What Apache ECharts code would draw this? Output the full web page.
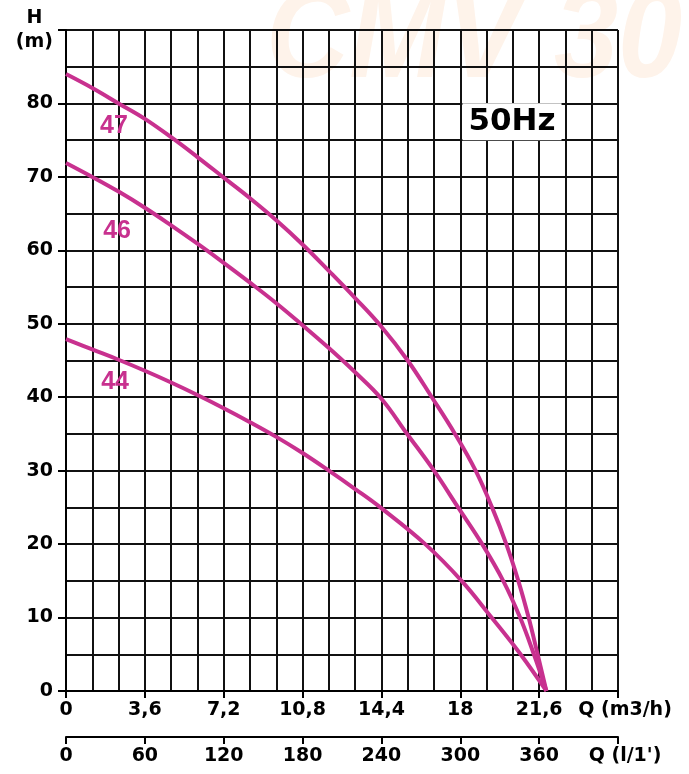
<!DOCTYPE html>
<html>
<head>
<meta charset="utf-8">
<script src="https://cdn.jsdelivr.net/npm/echarts@6/dist/echarts.min.js"></script>
<style>
	html,body{margin:0;padding:0;background:#fff;}
	#main{width:689px;height:774px;}
</style>
</head>
<body>
<div id="main"></div>
<script>
	// Q (m3/h) , H (m)
	var curve47 = [[0,84.0],[1.2,82.1],[2.4,80.0],[3.6,77.9],[4.8,75.4],[6.0,72.7],[7.2,69.9],[8.4,67.1],[9.6,64.1],[10.8,60.8],[12.0,57.2],[13.2,53.5],[14.4,49.6],[15.6,45.0],[16.7,40.0],[17.76,35.0],[18.7,30.0],[19.45,25.0],[20.1,20.0],[20.65,15.0],[21.12,10.0],[21.53,5.0],[21.93,0]];
	var curve46 = [[0,71.9],[1.2,70.0],[2.4,68.0],[3.6,65.8],[4.8,63.4],[6.0,60.9],[7.2,58.3],[8.4,55.6],[9.6,52.8],[10.8,49.8],[12.0,46.7],[13.2,43.4],[14.4,39.8],[15.55,35.1],[16.8,30.0],[17.9,25.0],[19.0,20.0],[19.96,15.0],[20.73,10.0],[21.36,5.0],[21.93,0]];
	var curve44 = [[0,47.9],[1.2,46.5],[2.4,45.1],[3.6,43.6],[4.8,42.0],[6.0,40.3],[7.2,38.5],[8.4,36.6],[9.6,34.6],[10.8,32.4],[12.0,30.0],[13.2,27.5],[14.35,25.0],[16.4,20.0],[18.06,15.0],[19.43,10.0],[20.75,5.0],[21.93,0]];
	var curveNames = ['47','46','44'];
	var curveLabelPos = [[2.19,76.9],[2.33,62.6],[2.24,42.1]];
	var hzLabel = '50Hz';
	var hzPos = [20.36,77.5];
	var qLabels = ['0','3,6','7,2','10,8','14,4','18','21,6','Q (m3/h)'];
	var lLabels = ['0','60','120','180','240','300','360',"Q (l/1')"];
	var hLabels = ['0','10','20','30','40','50','60','70','80','H\n(m)'];

	var magenta = '#C8318F';
	var font = 'DejaVu Sans';
	var chart = echarts.init(document.getElementById('main'));

	var labelSeries = {
		type:'scatter',
		symbolSize:0,
		silent:true,
		itemStyle:{opacity:1},
		data:curveLabelPos.map(function(p,i){ return {name:curveNames[i],value:p}; }),
		label:{
			show:true,
			position:'inside',
			formatter:'{b}',
			color:magenta,
			fontFamily:'Liberation Sans',
			fontWeight:'bold',
			fontSize:25
		},
		z:5
	};
	var hzSeries = {
		type:'scatter',
		symbolSize:0,
		silent:true,
		itemStyle:{opacity:1},
		data:[{name:hzLabel,value:hzPos}],
		label:{
			show:true,
			position:'inside',
			formatter:'{b}',
			color:'#000',
			fontFamily:font,
			fontWeight:'bold',
			fontSize:31,
			backgroundColor:'#fff',
			padding:[4,6,2,6]
		},
		z:5
	};
	function curveSeries(d){
		return {
			type:'line',
			data:d,
			smooth:0.4,
			showSymbol:false,
			silent:true,
			clip:false,
			lineStyle:{color:magenta,width:4},
			z:3
		};
	}
	var gridLine = {show:true,lineStyle:{color:'#111',width:2}};
	var axisTextStyle = {color:'#000',fontFamily:font,fontWeight:'bold',fontSize:19};

	var option = {
		backgroundColor:'#fff',
		animation:false,
		graphic:[{
			type:'text',
			left:266,
			top:-22,
			z:-10,
			silent:true,
			style:{
				text:'CMV 30',
				fill:'#FEF3EA',
				font:'italic bold 128px "Liberation Sans"'
			},
			scaleX:0.9
		}],
		grid:{left:66,top:30,right:71,bottom:83,outerBoundsMode:'none'},
		xAxis:[{
			type:'value',
			min:0,max:25.2,interval:3.6,
			position:'bottom',
			axisLine:{show:true,onZero:false,lineStyle:{color:'#000',width:2}},
			axisTick:{show:true,inside:false,length:7,lineStyle:{color:'#000',width:2}},
			axisLabel:Object.assign({
				margin:10,
				formatter:function(v){
					var i = Math.round(v/3.6);
					return i==7 ? '{n|'+qLabels[i]+'}' : qLabels[i];
				},
				rich:{n:Object.assign({padding:[0,0,0,14]},axisTextStyle)}
			},axisTextStyle),
			splitLine:gridLine,
			minorTick:{show:false,splitNumber:3},
			minorSplitLine:gridLine
		},{
			type:'value',
			min:0,max:420,interval:60,
			position:'bottom',
			offset:46,
			axisLine:{show:true,onZero:false,lineStyle:{color:'#000',width:2}},
			axisTick:{show:true,inside:false,length:7,lineStyle:{color:'#000',width:2}},
			axisLabel:Object.assign({
				margin:10,
				formatter:function(v){
					var i = Math.round(v/60);
					return i==7 ? '{n|'+lLabels[i]+'}' : lLabels[i];
				},
				rich:{n:Object.assign({padding:[0,0,0,14]},axisTextStyle)}
			},axisTextStyle),
			splitLine:{show:false}
		}],
		yAxis:{
			type:'value',
			min:0,max:90,interval:10,
			axisLine:{show:true,lineStyle:{color:'#000',width:2}},
			axisTick:{show:true,inside:false,length:8,lineStyle:{color:'#000',width:2}},
			axisLabel:Object.assign({
				margin:13,
				formatter:function(v){
					var i = Math.round(v/10);
					if(i==9){
						return '{c|H}\n{c|(m)}';
					}
					return hLabels[i];
				},
				rich:{c:Object.assign({align:'center',lineHeight:24},axisTextStyle)}
			},axisTextStyle),
			splitLine:gridLine,
			minorTick:{show:false,splitNumber:2},
			minorSplitLine:gridLine
		},
		series:[
			curveSeries(curve47),
			curveSeries(curve46),
			curveSeries(curve44),
			labelSeries,
			hzSeries
		]
	};
	chart.setOption(option);
</script>
</body>
</html>
